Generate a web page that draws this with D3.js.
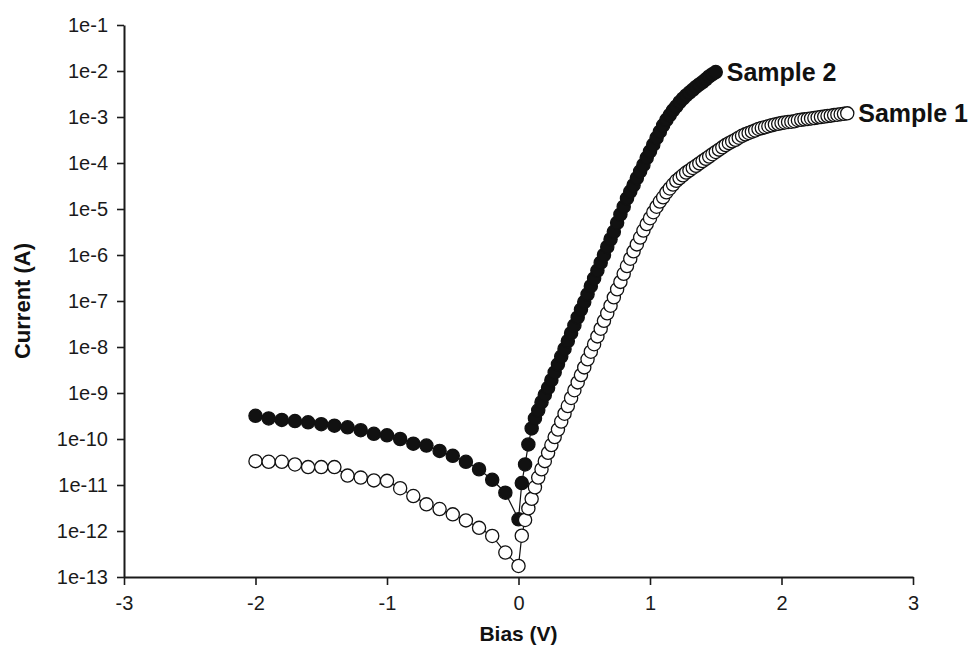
<!DOCTYPE html>
<html>
<head>
<meta charset="utf-8">
<script src="https://cdn.jsdelivr.net/npm/d3@7"></script>
<style>
  body { margin: 0; background: #fff; }
  svg { display: block; font-family: "Liberation Sans", Arial, sans-serif; }
</style>
</head>
<body>
<div id="chart"></div>
<script>

// reverse sweep, -2 V to 0 V in 0.1 V steps
var biasReverse = [-2, -1.9, -1.8, -1.7, -1.6, -1.5, -1.4, -1.3, -1.2, -1.1, -1,
  -0.9, -0.8, -0.7, -0.6, -0.5, -0.4, -0.3, -0.2, -0.1, 0]

var sample1Reverse = [3.3e-11, 3.2e-11, 3.2e-11, 2.8e-11, 2.45e-11, 2.45e-11, 2.45e-11,
  1.6e-11, 1.45e-11, 1.26e-11, 1.23e-11, 8.5e-12, 5.75e-12, 3.8e-12, 3.0e-12, 2.3e-12,
  1.7e-12, 1.17e-12, 7.8e-13, 3.4e-13, 1.74e-13]

var sample2Reverse = [3.2e-10, 2.8e-10, 2.6e-10, 2.45e-10, 2.3e-10, 2.1e-10, 1.95e-10,
  1.8e-10, 1.55e-10, 1.3e-10, 1.2e-10, 1.0e-10, 7.9e-11, 7.2e-11, 5.5e-11, 4.3e-11,
  3.2e-11, 2.2e-11, 1.3e-11, 6.8e-12, 1.8e-12]

// forward sweep, 0.025 V steps starting at 0.025 V
var forwardStep = 0.025

var sample1Forward = [7.9e-13, 1.74e-12, 3.1e-12, 5.0e-12, 8.9e-12, 1.45e-11, 2.2e-11, 3.3e-11,
  5.0e-11, 7.4e-11, 1.1e-10, 1.6e-10, 2.4e-10, 3.55e-10, 5.2e-10, 7.8e-10,
  1.15e-9, 1.7e-9, 2.45e-9, 3.6e-9, 5.4e-9, 7.9e-9, 1.15e-8, 1.7e-8,
  2.5e-8, 3.7e-8, 5.4e-8, 7.9e-8, 1.2e-7, 1.8e-7, 2.6e-7, 3.9e-7,
  5.75e-7, 8.3e-7, 1.2e-6, 1.7e-6, 2.4e-6, 3.4e-6, 4.7e-6, 6.3e-6,
  8.5e-6, 1.12e-5, 1.45e-5, 1.8e-5, 2.3e-5, 2.8e-5, 3.4e-5, 4.1e-5,
  4.7e-5, 5.4e-5, 6.2e-5, 6.9e-5, 7.8e-5, 8.7e-5, 9.8e-5, 1.1e-4,
  1.23e-4, 1.38e-4, 1.55e-4, 1.74e-4, 1.95e-4, 2.19e-4, 2.45e-4, 2.7e-4,
  2.95e-4, 3.2e-4, 3.55e-4, 3.9e-4, 4.2e-4, 4.5e-4, 4.8e-4, 5.1e-4,
  5.5e-4, 5.75e-4, 6.0e-4, 6.3e-4, 6.6e-4, 6.9e-4, 7.1e-4, 7.4e-4,
  7.6e-4, 7.8e-4, 7.9e-4, 8.1e-4, 8.5e-4, 8.7e-4, 8.9e-4, 9.1e-4,
  9.3e-4, 9.5e-4, 9.8e-4, 1.0e-3, 1.02e-3, 1.05e-3, 1.07e-3, 1.1e-3,
  1.12e-3, 1.15e-3, 1.17e-3, 1.2e-3]

var sample2Forward = [1.1e-11, 2.8e-11, 7.6e-11, 1.7e-10, 2.8e-10, 4.2e-10, 6.3e-10, 9.1e-10,
  1.3e-9, 1.9e-9, 2.8e-9, 4.2e-9, 6.2e-9, 9.1e-9, 1.35e-8, 2.0e-8,
  2.95e-8, 4.4e-8, 6.5e-8, 9.5e-8, 1.4e-7, 2.1e-7, 3.1e-7, 4.6e-7,
  6.8e-7, 1.0e-6, 1.5e-6, 2.2e-6, 3.2e-6, 5.0e-6, 7.6e-6, 1.12e-5,
  1.7e-5, 2.4e-5, 3.3e-5, 4.7e-5, 6.6e-5, 9.1e-5, 1.3e-4, 1.8e-4,
  2.5e-4, 3.5e-4, 4.8e-4, 6.6e-4, 8.7e-4, 1.1e-3, 1.4e-3, 1.7e-3,
  2.1e-3, 2.5e-3, 2.95e-3, 3.4e-3, 3.9e-3, 4.5e-3, 5.1e-3, 5.75e-3,
  6.6e-3, 7.6e-3, 8.5e-3, 9.5e-3]

var xTicks = [-3, -2, -1, 0, 1, 2, 3]
var yTicks = [1e-13, 1e-12, 1e-11, 1e-10, 1e-9, 1e-8, 1e-7, 1e-6, 1e-5, 1e-4, 1e-3, 1e-2, 1e-1]
var yTickLabels = ["1e-13", "1e-12", "1e-11", "1e-10", "1e-9", "1e-8", "1e-7",
  "1e-6", "1e-5", "1e-4", "1e-3", "1e-2", "1e-1"]

var seriesNames = ["Sample 1", "Sample 2"]


function joinSweep(reverse, forward) {
  var pts = biasReverse.map((b, i) => ({ v: b, i: reverse[i] }))
  forward.forEach((c, k) => {
    pts.push({ v: +((k + 1) * forwardStep).toFixed(3), i: c })
  })
  return pts
}

var sample1 = joinSweep(sample1Reverse, sample1Forward)
var sample2 = joinSweep(sample2Reverse, sample2Forward)

var width = 972
var height = 647

var x = d3.scaleLinear().domain([-3, 3]).range([124, 913])
var y = d3.scaleLog().domain([1e-13, 1e-1]).range([577, 25])

var svg = d3.select("#chart").append("svg")
    .attr("width", width)
    .attr("height", height)

// axes
svg.append("g")
    .attr("transform", "translate(" + x(-3) + ",0)")
    .call(d3.axisLeft(y)
      .tickValues(yTicks)
      .tickFormat((d, i) => yTickLabels[i])
      .tickSizeInner(7)
      .tickSizeOuter(0)
      .tickPadding(9))

svg.append("g")
    .attr("transform", "translate(0," + y(1e-13) + ")")
    .call(d3.axisBottom(x)
      .tickValues(xTicks)
      .tickFormat(d => String(d))
      .tickSizeInner(8)
      .tickSizeOuter(0)
      .tickPadding(11))

svg.selectAll(".domain")
    .attr("stroke", "#1a1a1a")
    .attr("stroke-width", 2)
svg.selectAll(".tick line")
    .attr("stroke", "#1a1a1a")
    .attr("stroke-width", 1.6)
svg.selectAll(".tick text")
    .attr("fill", "#1a1a1a")
    .attr("font-size", 20)
    .attr("font-family", "Liberation Sans, Arial, sans-serif")

// axis titles
svg.append("text")
    .attr("x", x(0))
    .attr("y", 641)
    .attr("text-anchor", "middle")
    .attr("font-size", 21)
    .attr("font-weight", "bold")
    .attr("fill", "#111")
    .text("Bias (V)")

svg.append("text")
    .attr("transform", "translate(30," + y(1e-7) + ") rotate(-90)")
    .attr("text-anchor", "middle")
    .attr("font-size", 22)
    .attr("font-weight", "bold")
    .attr("fill", "#111")
    .text("Current (A)")

var line = d3.line()
    .x(d => x(d.v))
    .y(d => y(d.i))

function drawSeries(data, filled) {
  var g = svg.append("g")

  g.append("path")
      .datum(data)
      .attr("fill", "none")
      .attr("stroke", "#111")
      .attr("stroke-width", 1.2)
      .attr("d", line)

  g.selectAll("circle")
    .data(data)
    .join("circle")
      .attr("cx", d => x(d.v))
      .attr("cy", d => y(d.i))
      .attr("r", 6.6)
      .attr("fill", filled ? "#111" : "#fff")
      .attr("stroke", "#111")
      .attr("stroke-width", 1.3)
}

drawSeries(sample2, true)
drawSeries(sample1, false)

// end labels
var ends = [sample1[sample1.length - 1], sample2[sample2.length - 1]]

svg.append("g")
    .attr("font-size", 25)
    .attr("font-weight", "bold")
    .attr("fill", "#111")
  .selectAll("text")
  .data(ends)
  .join("text")
    .attr("x", d => x(d.v) + 11)
    .attr("y", d => y(d.i))
    .attr("dy", "0.35em")
    .text((d, i) => seriesNames[i])

</script>
</body>
</html>
